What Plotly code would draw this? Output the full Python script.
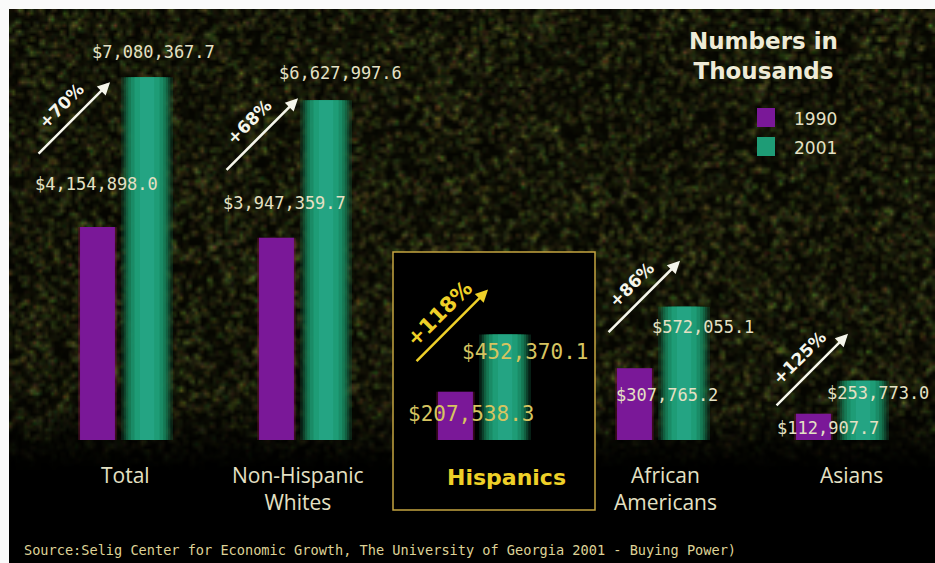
import base64
import struct
import zlib

import numpy as np
import plotly.graph_objects as go

# ---- data (buying power, $ thousands) ----
groups = ["Total", "Non-Hispanic<br>Whites", "Hispanics", "African<br>Americans", "Asians"]
years = ["1990", "2001"]
power_1990 = [4154898.0, 3947359.7, 207538.3, 307765.2, 112907.7]
power_2001 = [7080367.7, 6627997.6, 452370.1, 572055.1, 253773.0]
# the three smaller groups are drawn against an enlarged secondary scale
on_small_scale = [False, False, True, True, True]
highlight_group = "Hispanics"
source_note = ("Source:Selig Center for Economic Growth, The University of Georgia 2001 - "
               "Buying Power)")
legend_title = "Numbers in<br>Thousands"

# ---- layout constants ----
W, H = 935, 563
BASE_PX = 440                 # baseline of the bars, px from top
GROUP_PX0, GROUP_STEP = 122, 179
K_MAIN = 5.125e-5             # px per unit, main scale
K_SMALL = 2.33e-4             # px per unit, enlarged scale
OFF_1990, OFF_2001 = -0.137, 0.14
W_1990 = 0.195

PURPLE = "rgb(122,24,152)"
GREEN_CORE = "rgb(30,156,118)"
TEXT = "rgb(228,224,196)"
YELLOW = "rgb(238,208,40)"
YELLOW_SOFT = "rgb(214,196,96)"

# label nudges (px right, px up) relative to the top-centre of each bar
nudge_1990 = [(-1, 43), (8, 35), (16, -22), (33, -27), (15, -14)]
nudge_2001 = [(6, 25), (14, 27), (20, -17), (19, -20), (15, -12)]
# arrow tip (px right, px up) relative to the top-centre of the 2001 bar
arrow_tip = [(-37, -5), (-28, 2), (-17, 45), (-4, 46), (-15, 47)]
cat_dx = [3, -3, 26, 6, 13]


def png_rgba(arr):
    h, w, _ = arr.shape
    raw = b"".join(b"\x00" + arr[r].tobytes() for r in range(h))

    def chunk(tag, data):
        return (struct.pack(">I", len(data)) + tag + data
                + struct.pack(">I", zlib.crc32(tag + data) & 0xFFFFFFFF))

    return (b"\x89PNG\r\n\x1a\n"
            + chunk(b"IHDR", struct.pack(">IIBBBBB", w, h, 8, 6, 0, 0, 0))
            + chunk(b"IDAT", zlib.compress(raw, 9))
            + chunk(b"IEND", b""))


# grainy dark backdrop behind the bars
rng = np.random.default_rng(2001)
tex_top, tex_bottom = 9, 470
th, tw = 154, 309
lum = rng.random((th, tw)) ** 4.5 * 110
# soften the grain into small blotches
lum = (lum + np.roll(lum, 1, 0) + np.roll(lum, 1, 1) + np.roll(np.roll(lum, 1, 0), 1, 1)) / 4
tint = 1 + rng.normal(0, 0.18, (th, tw, 3))
rgb = np.stack([lum * 0.92, lum * 1.0, lum * 0.4], -1) * tint + np.array([5, 5, 1])
rows_px = tex_top + (np.arange(th) + 0.5) * (tex_bottom - tex_top) / th
alpha = np.clip((tex_bottom - rows_px) / 75, 0, 1) * 255
tex = np.concatenate([np.clip(rgb, 0, 255), np.repeat(alpha[:, None, None], tw, 1)], -1)
tex_uri = "data:image/png;base64," + base64.b64encode(png_rgba(tex.astype(np.uint8))).decode()

fig = go.Figure()


def add_bars(values, offset, width, color, scale_small):
    idx = [i for i in range(len(groups)) if on_small_scale[i] == scale_small]
    fig.add_trace(go.Bar(
        x=[i + offset for i in idx], y=[values[i] for i in idx], width=width,
        marker=dict(color=color, line=dict(width=0)),
        yaxis="y2" if scale_small else "y", hoverinfo="skip", showlegend=False))


# soft glow for the 2001 bars: stacked translucent layers, widest first
glow = [(0.29, "rgba(18,90,60,0.35)"), (0.26, "rgba(20,105,70,0.45)"),
        (0.235, "rgba(22,120,82,0.55)"), (0.21, "rgba(25,134,96,0.65)"),
        (0.18, "rgba(28,146,108,0.75)"), (0.14, GREEN_CORE),
        (0.08, "rgba(40,170,140,0.6)")]

for small in (False, True):
    add_bars(power_1990, OFF_1990, W_1990 + 0.02, "rgba(130,20,70,0.4)", small)
    add_bars(power_1990, OFF_1990, W_1990, PURPLE, small)
    for width, col in glow:
        add_bars(power_2001, OFF_2001, width, col, small)

annotations = []
for i, name in enumerate(groups):
    hot = name == highlight_group
    yref = "y2" if on_small_scale[i] else "y"
    vfont = dict(family="DejaVu Sans Mono", size=21 if hot else 17,
                 color=YELLOW_SOFT if hot else TEXT)
    for vals, off, nud in ((power_1990, OFF_1990, nudge_1990[i]),
                           (power_2001, OFF_2001, nudge_2001[i])):
        annotations.append(dict(x=i + off, y=vals[i], xref="x", yref=yref,
                                text=f"${vals[i]:,.1f}", showarrow=False,
                                xshift=nud[0], yshift=nud[1], font=vfont,
                                xanchor="center", yanchor="middle"))

    # growth arrow and percentage
    pct = round((power_2001[i] / power_1990[i] - 1) * 100)
    tx, ty = arrow_tip[i]
    acol = YELLOW if hot else "rgb(245,245,235)"
    annotations.append(dict(x=i + OFF_2001, y=power_2001[i], xref="x", yref=yref,
                            text="", showarrow=True, ax=-73, ay=73,
                            xshift=tx, yshift=ty, arrowcolor=acol,
                            arrowwidth=2.5, arrowhead=2, arrowsize=1))
    annotations.append(dict(x=i + OFF_2001, y=power_2001[i], xref="x", yref=yref,
                            text=f"<b>+{pct}%</b>", showarrow=False, textangle=-45,
                            xshift=tx - 49, yshift=ty - 24,
                            font=dict(family="DejaVu Sans", size=21 if hot else 17,
                                      color=acol)))

    # category name under the bars
    annotations.append(dict(x=i, y=0, xref="x", yref="y",
                            text=f"<b>{name}</b>" if hot else name,
                            showarrow=False, xanchor="center", yanchor="top",
                            xshift=cat_dx[i], yshift=-19 if not hot else -23,
                            font=dict(family="DejaVu Sans" if hot else "Open Sans",
                                      size=22 if hot else 21,
                                      color=YELLOW if hot else TEXT)))

# key
annotations.append(dict(x=763 / W, y=1 - 56 / H, xref="paper", yref="paper",
                        text=f"<b>{legend_title}</b>", showarrow=False, xanchor="center",
                        yanchor="middle",
                        font=dict(family="DejaVu Sans", size=23, color="rgb(238,235,215)")))
for k, (yr, col) in enumerate(zip(years, (PURPLE, GREEN_CORE))):
    annotations.append(dict(x=792 / W, y=1 - (119 + 29 * k) / H, xref="paper",
                            yref="paper", text=yr, showarrow=False, xanchor="left",
                            yanchor="middle",
                            font=dict(family="DejaVu Sans", size=17, color=TEXT)))

annotations.append(dict(x=22 / W, y=1 - 550 / H, xref="paper", yref="paper",
                        text=source_note, showarrow=False, xanchor="left",
                        yanchor="middle",
                        font=dict(family="DejaVu Sans Mono", size=13.6,
                                  color="rgb(222,210,150)")))

shapes = [
    # highlight frame around the Hispanic bars
    dict(type="rect", xref="paper", yref="paper", x0=393 / W, x1=595 / W,
         y0=1 - 510 / H, y1=1 - 252 / H, fillcolor="black",
         line=dict(color="rgb(196,164,64)", width=1.5), layer="below"),
    # page border strips
    dict(type="rect", xref="paper", yref="paper", x0=0, x1=9 / W, y0=0, y1=1,
         fillcolor="rgb(250,250,250)", line=dict(width=0), layer="above"),
    dict(type="rect", xref="paper", yref="paper", x0=0, x1=1, y0=1 - 9 / H, y1=1,
         fillcolor="rgb(250,250,250)", line=dict(width=0), layer="above"),
]
for k, col in enumerate((PURPLE, GREEN_CORE)):
    y_top = 108 + 29 * k
    shapes.append(dict(type="rect", xref="paper", yref="paper", x0=757 / W, x1=775 / W,
                       y0=1 - (y_top + 19) / H, y1=1 - y_top / H, fillcolor=col,
                       line=dict(width=0)))

fig.update_layout(
    width=W, height=H, autosize=False,
    margin=dict(l=0, r=0, t=0, b=0, pad=0),
    paper_bgcolor="black", plot_bgcolor="rgba(0,0,0,0)",
    barmode="overlay", showlegend=False,
    xaxis=dict(range=[-GROUP_PX0 / GROUP_STEP, (W - GROUP_PX0) / GROUP_STEP],
               visible=False, fixedrange=True),
    yaxis=dict(range=[-(H - BASE_PX) / K_MAIN, BASE_PX / K_MAIN], visible=False,
               fixedrange=True),
    yaxis2=dict(range=[-(H - BASE_PX) / K_SMALL, BASE_PX / K_SMALL], visible=False,
                overlaying="y", fixedrange=True),
    images=[dict(source=tex_uri, xref="paper", yref="paper", x=9 / W, y=1 - tex_top / H,
                 sizex=1 - 9 / W, sizey=(tex_bottom - tex_top) / H, sizing="stretch",
                 xanchor="left", yanchor="top", layer="below")],
    annotations=annotations, shapes=shapes,
)

fig.write_html("out.html", config=dict(displayModeBar=False))
